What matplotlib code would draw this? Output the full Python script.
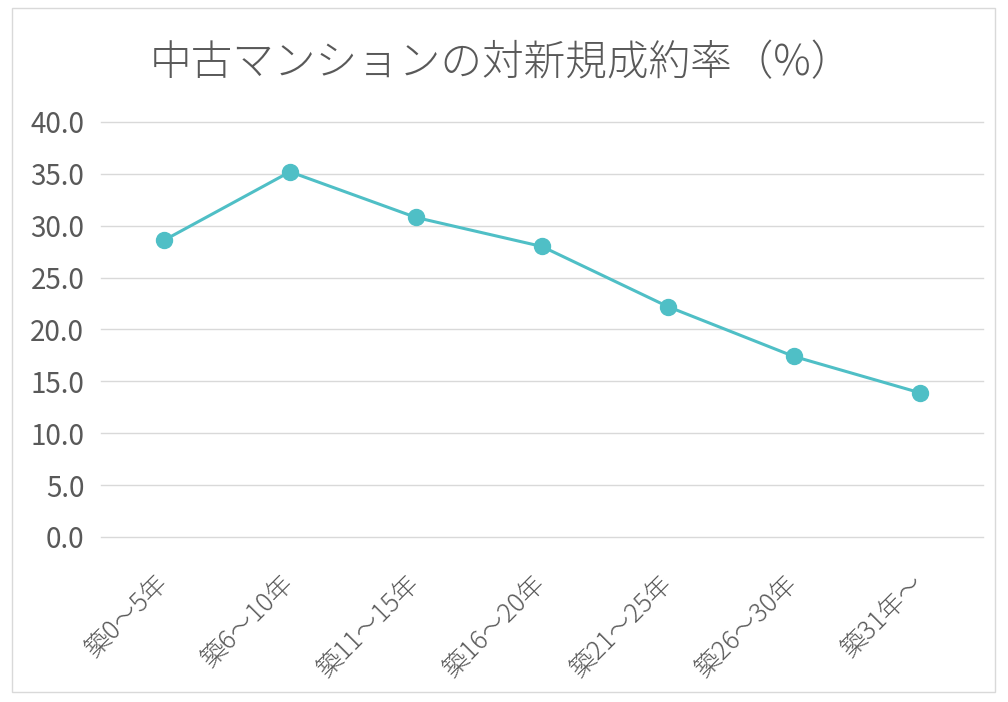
import matplotlib.pyplot as plt
from matplotlib.patches import Rectangle
from matplotlib.transforms import ScaledTranslation

plt.rcParams['font.family'] = ['Noto Sans CJK JP', 'DejaVu Sans']

categories = ["築0～5年", "築6～10年", "築11～15年", "築16～20年", "築21～25年", "築26～30年", "築31年～"]
rates = [28.6, 35.2, 30.8, 28.0, 22.2, 17.4, 13.9]
yticks = [0, 5, 10, 15, 20, 25, 30, 35, 40]

text_color = "#595959"
line_color = "#4FBFC6"

fig = plt.figure(figsize=(10.08, 7.02), dpi=100)
fig.patches.append(Rectangle((12 / 1008, 10 / 702), 983 / 1008, 684 / 702,
                             transform=fig.transFigure, fill=False,
                             edgecolor="#D9D9D9", linewidth=1))

ax = fig.add_axes([101 / 1008, 165 / 702, 882 / 1008, 415 / 702])
x = list(range(len(categories)))
ax.plot(x, rates, color=line_color, linewidth=2.2, marker="o", markersize=11.5, zorder=3)

ax.set_xlim(-0.5, len(categories) - 0.5)
ax.set_ylim(0, 40)
ax.set_yticks(yticks)
ax.set_yticklabels([f"{v:.1f}" for v in yticks], fontsize=20, color=text_color)
ax.set_xticks(x)
ax.set_xticklabels(categories, fontsize=18.5, color=text_color, rotation=45,
                   ha="right", va="top", rotation_mode="anchor", fontweight="light")
ax.tick_params(axis="y", length=0, pad=12)
ax.tick_params(axis="x", length=0, pad=24)
# nudge the slanted labels a little left so they end under the tick
shift = ScaledTranslation(-0.1, 0, fig.dpi_scale_trans)
for lab in ax.get_xticklabels():
    lab.set_transform(lab.get_transform() + shift)
ax.grid(axis="y", color="#D9D9D9", linewidth=1)
for gl in ax.get_ygridlines():
    gl.set_clip_on(False)
ax.set_axisbelow(True)
for s in ax.spines.values():
    s.set_visible(False)

fig.text(0.497, 0.91, "中古マンションの対新規成約率（%）", fontsize=30,
         color=text_color, ha="center", va="center", fontweight="light")

fig.savefig("out.png", dpi=100)
